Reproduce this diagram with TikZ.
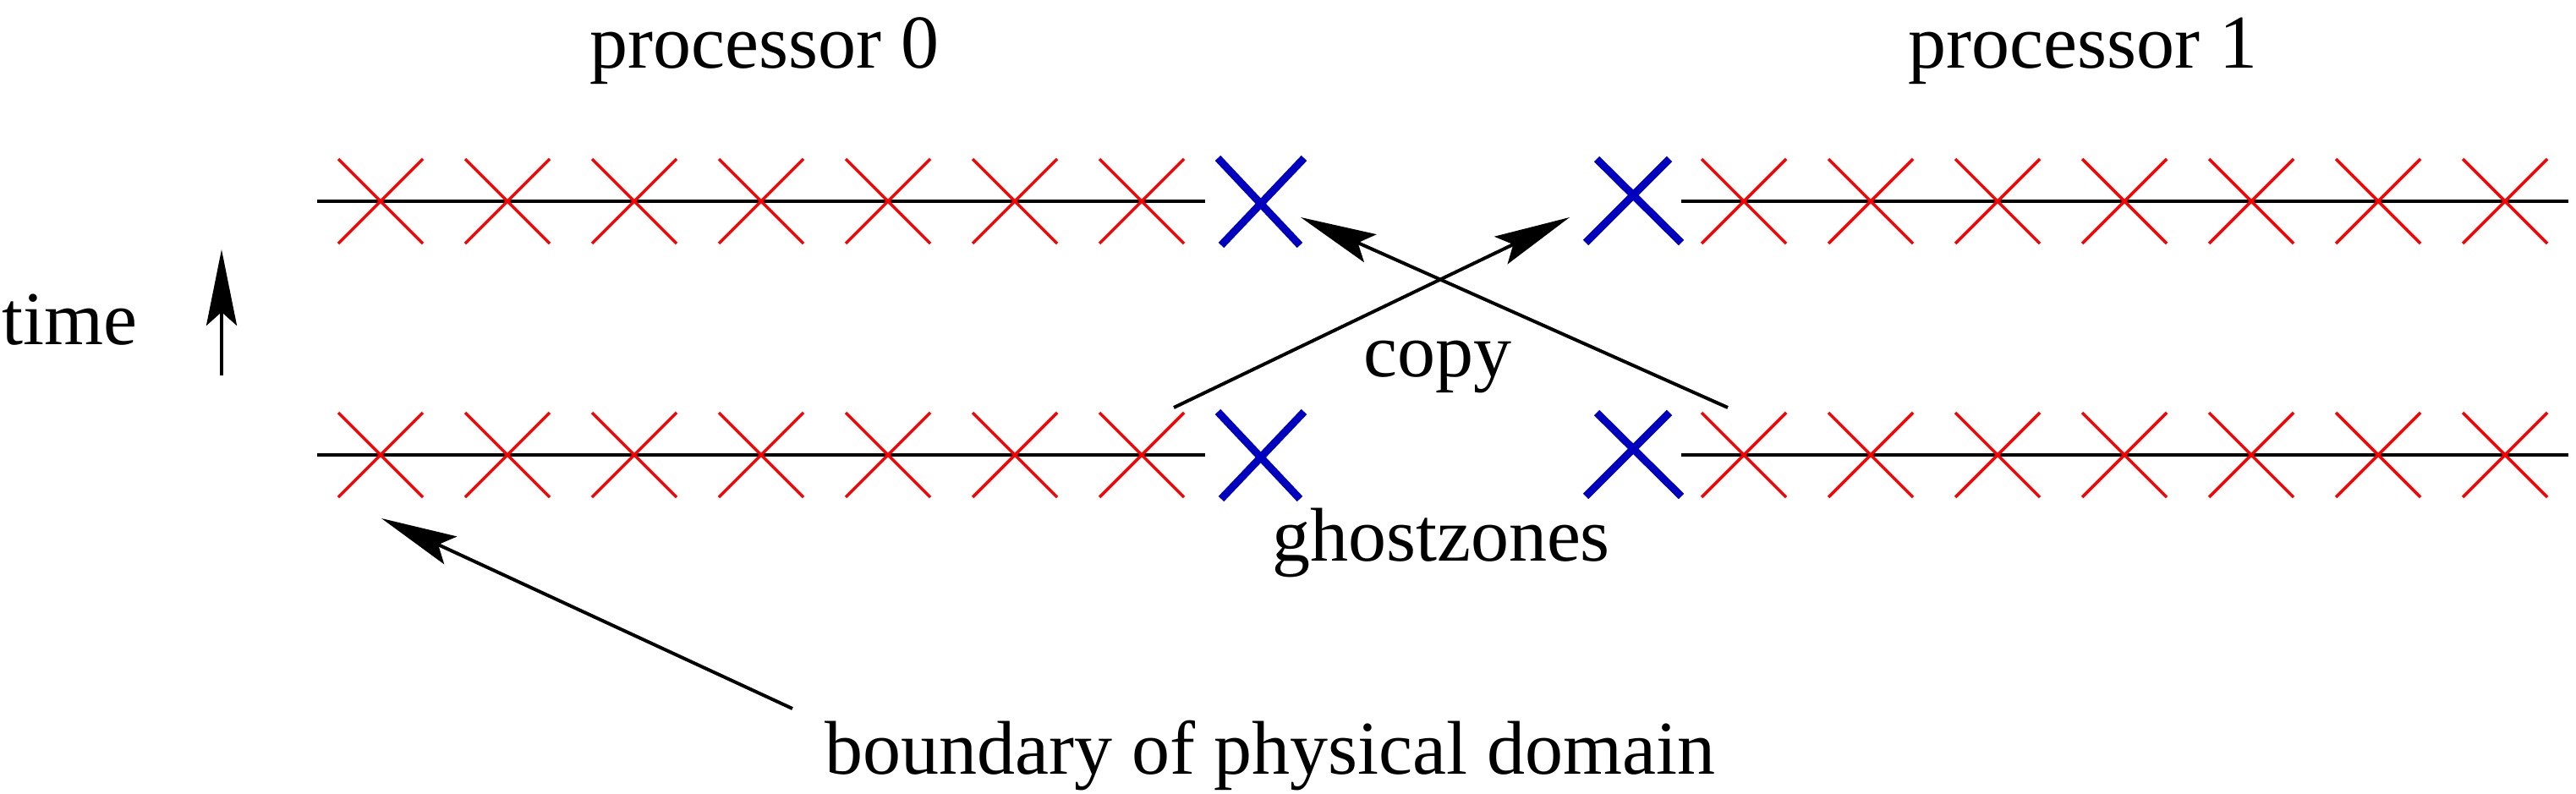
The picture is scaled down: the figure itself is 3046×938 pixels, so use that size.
\documentclass[tikz,border=0pt]{standalone}
\usepackage{fontspec}
\setmainfont{Liberation Serif}
\usetikzlibrary{arrows.meta}
\definecolor{ghostblue}{RGB}{0,0,190}
\tikzset{
  timeline/.style={draw=black, line width=4pt},
  redcross/.style={draw=red, line width=3.5pt},
  bluecross/.style={draw=ghostblue, line width=9pt},
  arr/.style={draw=black, line width=4pt, -{Stealth[length=90pt, width=36pt, inset=16pt]}},
  lbl/.style={font=\fontsize{90}{100}\selectfont, anchor=base, inner sep=0pt},
  pics/rx/.style={code={\draw[redcross] (-50,-50) -- (50,50) (-50,50) -- (50,-50);}},
}
\begin{document}
\begin{tikzpicture}[x=1pt, y=-1pt]
\useasboundingbox (0,0) rectangle (3046,938);
% labels
\node[lbl] (p0) at (904,80) {processor 0};
\node[lbl] (p1) at (2463,80) {processor 1};
\node[lbl, anchor=base west] (time) at (2,407) {time};
\node[lbl] (copy) at (1700,445) {copy};
\node[lbl] (ghost) at (1704,663) {ghostzones};
\node[lbl] (bnd) at (1502,915) {boundary of physical domain};
% time lines
\foreach \y/\r in {238/t, 538/b} {
  \coordinate (\r L0) at (375,\y);
  \coordinate (\r L1) at (1425,\y);
  \coordinate (\r R0) at (1988,\y);
  \coordinate (\r R1) at (3037,\y);
  \draw[timeline] (\r L0) -- (\r L1);
  \draw[timeline] (\r R0) -- (\r R1);
  \foreach \i in {0,...,6} {
    \pic (\r l\i) at ({450+150*\i},\y) {rx};
    \pic (\r r\i) at ({2062+150*\i},\y) {rx};
  }
  % ghost zone crosses
  \draw[bluecross] (1440,\y-51) -- (1537,\y+52) (1542,\y-51) -- (1444,\y+52);
  \draw[bluecross] (1888,\y-50) -- (1988,\y+49) (1974,\y-50) -- (1875,\y+49);
}
% time arrow
\coordinate (ta0) at (262,444);
\coordinate (ta1) at (262,295);
\draw[arr] (ta0) -- (ta1);
% copy arrows
\coordinate (c1s) at (1388,482);
\coordinate (c1e) at (1856,257);
\coordinate (c2s) at (2043,482);
\coordinate (c2e) at (1538,257);
\draw[arr] (c1s) -- (c1e);
\draw[arr] (c2s) -- (c2e);
% boundary arrow
\coordinate (bs) at (937,838);
\coordinate (be) at (451,613);
\draw[arr] (bs) -- (be);
\end{tikzpicture}
\end{document}
